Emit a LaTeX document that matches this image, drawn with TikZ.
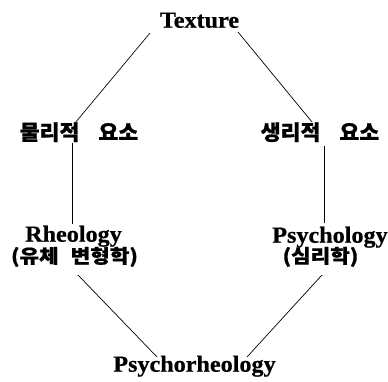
\documentclass[tikz,border=0pt]{standalone}
\usepackage{fontspec}
\setmainfont{Liberation Serif}
\newfontfamily\lat{Liberation Serif}[FakeStretch=1.05,FakeBold=0.6]
\newfontfamily\kra{Noto Sans CJK KR}[FakeStretch=1.03,FakeBold=0.8]
\newfontfamily\krb{Noto Sans CJK KR}[FakeStretch=1.12,FakeBold=0.8]
\tikzset{
  latlbl/.style={anchor=base, inner sep=0pt, font=\lat\bfseries\fontsize{23}{23}\selectfont},
  krlbl/.style={anchor=base, inner sep=0pt, font=\kra\bfseries\fontsize{21}{21}\selectfont},
  krpar/.style={anchor=base, inner sep=0pt, font=\krb\bfseries\fontsize{19}{19}\selectfont},
  conn/.style={line width=0.7pt}
}
\begin{document}
\begin{tikzpicture}[x=1pt,y=1pt]
\useasboundingbox (0,0) rectangle (388,381);
\node[latlbl] (T) at (199.5,353.3) {Texture};
\node[krlbl] (P1) at (79,241) {물리적\hspace{19pt}요소};
\node[krlbl] (P2) at (320,241) {생리적\hspace{19pt}요소};
\node[latlbl] (R) at (73.5,139.3) {Rheology};
\node[krpar] (Rk) at (74.5,118) {(유체\hspace{12pt}변형학)};
\node[latlbl] (S) at (330,138.3) {Psychology};
\node[krpar] (Sk) at (320.5,118) {(심리학)};
\node[latlbl] (PR) at (194.5,9.3) {Psychorheology};
\draw[conn] ([shift={(-49.5,-5.3)}]T.base) -- ([shift={(-4,17)}]P1.base);
\draw[conn] ([shift={(38.5,-4.3)}]T.base) -- ([shift={(-8,18)}]P2.base);
\draw[conn] ([shift={(-6.7,-3)}]P1.base) -- ([shift={(-1.2,17.7)}]R.base);
\draw[conn] ([shift={(4,-6)}]P2.base) -- ([shift={(-6,19.7)}]S.base);
\draw[conn] ([shift={(3.5,-12)}]Rk.base) -- ([shift={(-37.5,14.7)}]PR.base);
\draw[conn] ([shift={(1.5,-12)}]Sk.base) -- ([shift={(52.5,14.7)}]PR.base);
\end{tikzpicture}
\end{document}
